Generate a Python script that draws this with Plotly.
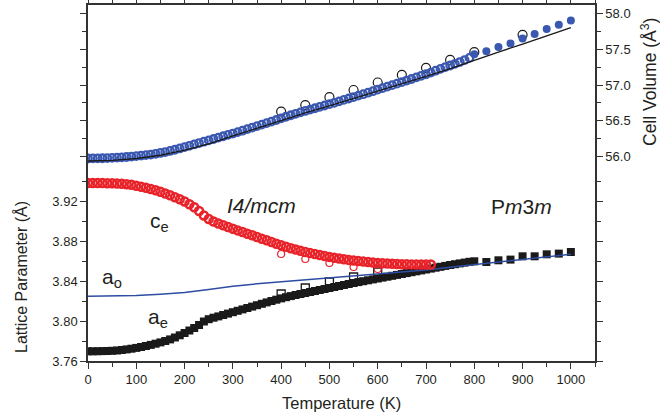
import plotly.graph_objects as go

# ---------------- data ----------------
# Cell volume (right axis)
T_dense_v = [0, 10, 20, 30, 40, 50, 60, 70, 80, 90, 100, 110, 120, 130, 140, 150, 160, 170, 180, 190,
             200, 210, 220, 230, 240, 250, 260, 270, 280, 290, 300, 310, 320, 330, 340, 350, 360, 370, 380, 390,
             400, 410, 420, 430, 440, 450, 460, 470, 480, 490, 500, 510, 520, 530, 540, 550, 560, 570, 580, 590,
             600, 610, 620, 630, 640, 650, 660, 670, 680, 690, 700, 710, 720, 730, 740, 750, 760, 770, 780, 790]
V_dense = [55.975, 55.976, 55.977, 55.978, 55.980, 55.983, 55.987, 55.991, 55.996, 56.002,
           56.008, 56.015, 56.022, 56.030, 56.040, 56.052, 56.065, 56.080, 56.097, 56.115,
           56.133, 56.152, 56.171, 56.190, 56.209, 56.228, 56.247, 56.266, 56.285, 56.304,
           56.323, 56.343, 56.363, 56.384, 56.405, 56.426, 56.447, 56.468, 56.489, 56.512,
           56.535, 56.557, 56.578, 56.598, 56.618, 56.638, 56.657, 56.676, 56.695, 56.714,
           56.733, 56.752, 56.772, 56.792, 56.812, 56.832, 56.852, 56.872, 56.893, 56.914,
           56.935, 56.956, 56.977, 56.998, 57.019, 57.040, 57.062, 57.084, 57.106, 57.128,
           57.150, 57.173, 57.200, 57.225, 57.250, 57.272, 57.295, 57.320, 57.348, 57.378]
T_sparse = [800, 825, 850, 875, 900, 925, 950, 975, 1000]
V_sparse = [57.43, 57.47, 57.53, 57.58, 57.65, 57.71, 57.78, 57.84, 57.90]
T_open_v = [400, 450, 500, 550, 600, 650, 700, 750, 800, 900]
V_open = [56.63, 56.72, 56.83, 56.93, 57.035, 57.14, 57.24, 57.35, 57.46, 57.70]
T_fit = [0, 50, 100, 150, 200, 250, 300, 350, 400, 450, 500, 550, 600, 650, 700, 750, 800, 850, 900, 950, 1000]
V_fit = [55.94, 55.95, 55.975, 56.02, 56.09, 56.18, 56.29, 56.40, 56.51, 56.61, 56.71, 56.81, 56.91,
         57.01, 57.12, 57.23, 57.35, 57.46, 57.57, 57.69, 57.80]

# Lattice parameters (left axis)
T_dense_c = [0, 10, 20, 30, 40, 50, 60, 70, 80, 90, 100, 110, 120, 130, 140, 150, 160, 170, 180, 190,
             200, 210, 220, 230, 240, 250, 260, 270, 280, 290, 300, 310, 320, 330, 340, 350, 360, 370, 380, 390,
             400, 410, 420, 430, 440, 450, 460, 470, 480, 490, 500, 510, 520, 530, 540, 550, 560, 570, 580, 590,
             600, 610, 620, 630, 640, 650, 660, 670, 680, 690, 700, 710]
c_e = [3.9380, 3.9380, 3.9380, 3.9379, 3.9378, 3.9377, 3.9375, 3.9372, 3.9368, 3.9362,
       3.9353, 3.9343, 3.9332, 3.9320, 3.9307, 3.9292, 3.9275, 3.9257, 3.9238, 3.9218,
       3.9195, 3.9168, 3.9138, 3.9100, 3.9055, 3.9020, 3.8995, 3.8975, 3.8957, 3.8940,
       3.8923, 3.8906, 3.8890, 3.8873, 3.8857, 3.8840, 3.8823, 3.8807, 3.8790, 3.8773,
       3.8757, 3.8742, 3.8728, 3.8715, 3.8702, 3.8690, 3.8679, 3.8669, 3.8659, 3.8650,
       3.8641, 3.8633, 3.8625, 3.8618, 3.8611, 3.8605, 3.8599, 3.8594, 3.8589, 3.8585,
       3.8581, 3.8578, 3.8575, 3.8572, 3.8570, 3.8568, 3.8567, 3.8566, 3.8565, 3.8565,
       3.8565, 3.8565]
T_open_c = [400, 450, 500, 550, 600]
c_open = [3.867, 3.862, 3.858, 3.854, 3.852]

T_dense_a = T_dense_v
a_e = [3.7697, 3.7697, 3.7698, 3.7699, 3.7700, 3.7702, 3.7705, 3.7710, 3.7716, 3.7723,
       3.7731, 3.7740, 3.7750, 3.7761, 3.7773, 3.7786, 3.7800, 3.7816, 3.7835, 3.7857,
       3.7880, 3.7905, 3.7930, 3.7960, 3.7995, 3.8018, 3.8033, 3.8046, 3.8060, 3.8074,
       3.8088, 3.8102, 3.8116, 3.8130, 3.8144, 3.8158, 3.8172, 3.8186, 3.8200, 3.8213,
       3.8226, 3.8238, 3.8249, 3.8260, 3.8270, 3.8280, 3.8290, 3.8300, 3.8310, 3.8320,
       3.8330, 3.8340, 3.8350, 3.8360, 3.8370, 3.8380, 3.8389, 3.8398, 3.8407, 3.8416,
       3.8425, 3.8434, 3.8443, 3.8452, 3.8461, 3.8470, 3.8479, 3.8488, 3.8497, 3.8506,
       3.8515, 3.8524, 3.8533, 3.8542, 3.8551, 3.8560, 3.8568, 3.8576, 3.8584, 3.8592]
a_sparse = [3.8597, 3.8590, 3.8607, 3.8614, 3.8647, 3.8647, 3.8667, 3.8674, 3.8690]
T_open_a = [400, 450, 500, 550, 600]
a_open = [3.827, 3.833, 3.839, 3.844, 3.849]
T_ao = [0, 50, 100, 150, 200, 250, 300, 350, 400, 450, 500, 550, 600, 650, 700, 750, 800, 850, 900, 950, 1000]
a_o = [3.8247, 3.8249, 3.8256, 3.8268, 3.8285, 3.8315, 3.8348, 3.8372, 3.8392, 3.8412, 3.8432,
       3.8450, 3.8468, 3.8490, 3.8510, 3.8538, 3.8565, 3.8590, 3.8615, 3.8640, 3.8667]

# ticks
x_ticks = [0, 100, 200, 300, 400, 500, 600, 700, 800, 900, 1000]
x_minor = [50, 150, 250, 350, 450, 550, 650, 750, 850, 950, 1050]
y_ticks = [3.76, 3.80, 3.84, 3.88, 3.92]
y_minor = [3.78, 3.82, 3.86, 3.90, 3.94]
y2_ticks = [56.0, 56.5, 57.0, 57.5, 58.0]
y2_minor = [56.25, 56.75, 57.25, 57.75]

# ---------------- style ----------------
FONT = "Liberation Sans, Arial, sans-serif"
TXT = "#231F20"
BLUE = "#3A58B0"
RED = "#E8232A"
BLACK = "#1A1A1A"
LBLUE = "#2D4DA3"

W, H = 660, 418
L, R, T, B = 88, 65, 5, 57
PW, PH = W - L - R, H - T - B


def px(x, y):
    return (x - L) / PW, (H - B - y) / PH


fig = go.Figure()

# lattice traces (left axis)
fig.add_trace(go.Scatter(x=T_open_a, y=a_open, mode="markers",
                         marker=dict(symbol="square-open", size=8, color=BLACK, line=dict(width=1.3))))
fig.add_trace(go.Scatter(x=T_dense_a, y=a_e, mode="markers",
                         marker=dict(symbol="square", size=8, color=BLACK)))
fig.add_trace(go.Scatter(x=T_sparse, y=a_sparse, mode="markers",
                         marker=dict(symbol="square", size=8, color=BLACK)))
fig.add_trace(go.Scatter(x=T_ao, y=a_o, mode="lines", line=dict(color=LBLUE, width=1.5)))
fig.add_trace(go.Scatter(x=T_dense_c, y=c_e, mode="markers",
                         marker=dict(symbol="circle-open", size=8, color=RED, line=dict(width=2.5))))
fig.add_trace(go.Scatter(x=T_open_c, y=c_open, mode="markers",
                         marker=dict(symbol="circle-open", size=7, color=RED, line=dict(width=1.2))))

# volume traces (right axis)
fig.add_trace(go.Scatter(x=T_open_v, y=V_open, mode="markers", yaxis="y2",
                         marker=dict(symbol="circle-open", size=9, color=BLACK, line=dict(width=1.2))))
fig.add_trace(go.Scatter(x=T_dense_v, y=V_dense, mode="markers", yaxis="y2",
                         marker=dict(symbol="circle-open", size=7.5, color=BLUE, line=dict(width=2.3))))
fig.add_trace(go.Scatter(x=T_sparse, y=V_sparse, mode="markers", yaxis="y2",
                         marker=dict(symbol="circle", size=8, color=BLUE)))
fig.add_trace(go.Scatter(x=T_fit, y=V_fit, mode="lines", yaxis="y2",
                         line=dict(color=BLACK, width=1.3)))

axis_common = dict(showgrid=False, zeroline=False, showline=True, linecolor="#333333", linewidth=1.5,
                   ticks="outside", tickcolor="#333333", tickwidth=1.3, ticklen=6, automargin=False,
                   mirror="ticks", tickfont=dict(family=FONT, size=13, color=TXT))

fig.update_layout(
    width=W, height=H,
    margin=dict(l=L, r=R, t=T, b=B, autoexpand=False),
    paper_bgcolor="white", plot_bgcolor="white",
    showlegend=False,
    xaxis=dict(range=[0, 1050], tickmode="array", tickvals=x_ticks,
               minor=dict(tickmode="array", tickvals=x_minor, ticklen=4, ticks="outside",
                          tickcolor="#333333", tickwidth=1.2),
               **axis_common),
    yaxis=dict(range=[3.76, 3.76 + PH / 1000.0], tickmode="array", tickvals=y_ticks,
               tickformat=".2f",
               minor=dict(tickmode="array", tickvals=y_minor, ticklen=4, ticks="outside",
                          tickcolor="#333333", tickwidth=1.2),
               **axis_common),
    yaxis2=dict(range=[53.15, 58.116], overlaying="y", side="right", anchor="x",
                tickmode="array", tickvals=y2_ticks, tickformat=".1f",
                minor=dict(tickmode="array", tickvals=y2_minor, ticklen=4, ticks="outside",
                           tickcolor="#333333", tickwidth=1.2),
                **axis_common),
)

ann = []


def add_text(x, y, text, size, xanchor="left", angle=0):
    xp, yp = px(x, y)
    ann.append(dict(x=xp, y=yp, xref="paper", yref="paper", text=text, showarrow=False,
                    xanchor=xanchor, yanchor="middle", textangle=angle,
                    font=dict(family=FONT, size=size, color=TXT)))


add_text(148, 222, "c<sub>e</sub>", 21)
add_text(100, 278, "a<sub>o</sub>", 21)
add_text(146, 318, "a<sub>e</sub>", 21)
add_text(225, 205, "<i>I4/mcm</i>", 21)
add_text(489, 207, "P<i>m</i>3<i>m</i>", 21)
add_text(341, 403, "Temperature (K)", 16.5, xanchor="center")
add_text(21, 277, "Lattice Parameter (Å)", 16, xanchor="center", angle=-90)
add_text(649, 82, "Cell Volume (Å<sup>3</sup>)", 17.5, xanchor="center", angle=-90)

fig.update_layout(annotations=ann)

fig.write_html("out.html")
